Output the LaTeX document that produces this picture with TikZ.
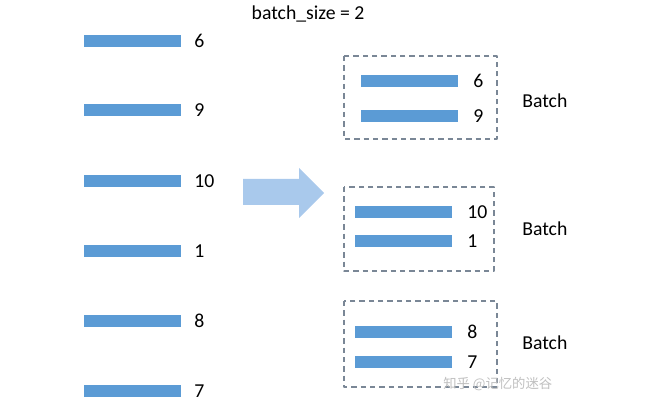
\documentclass[tikz,border=0pt]{standalone}
\usepackage{fontspec}
\setmainfont{Carlito}
\newfontfamily\cjk{Noto Sans CJK SC}
\definecolor{barblue}{HTML}{5B9BD5}
\definecolor{arrowblue}{HTML}{A9C9EC}
\definecolor{boxgray}{HTML}{7A8796}
\tikzset{
  bar/.style={fill=barblue,inner sep=0pt,minimum width=72.75pt,minimum height=8.5pt,anchor=west},
  num/.style={font=\fontsize{14.8}{17}\selectfont,anchor=west,inner sep=0pt},
  batchbox/.style={draw=boxgray,dashed,line width=0.8pt,dash pattern=on 4pt off 3pt},
}
\begin{document}
\begin{tikzpicture}[x=0.75pt,y=-0.75pt,line join=round,font=\fontsize{14.8}{17}\selectfont]
\useasboundingbox (0,0) rectangle (656,402);
\def\lx{84}
\def\nx{194}
%
\node[inner sep=0pt] (title) at (308,14) {batch\_size = 2};
% left column
\foreach \v/\y [count=\i] in {6/41,9/110,10/181,1/251,8/321,7/391}{
  \node[bar] (l\i) at (\lx,\y) {};
  \node[num] (ln\i) at (\nx,\y) {\v};
}
% arrow
\path
(243,179) coordinate (A1)
(299,179) coordinate (A2)
(299,168) coordinate (A3)
(324,193) coordinate (A4)
(299,218) coordinate (A5)
(299,205) coordinate (A6)
(243,205) coordinate (A7)
;
\fill[arrowblue] (A1)--(A2)--(A3)--(A4)--(A5)--(A6)--(A7)--cycle;
% batches
\draw[batchbox] (344,56) rectangle (497,139);
\draw[batchbox] (344,187) rectangle (494,271);
\draw[batchbox] (344,301) rectangle (497,387);
\foreach \v/\x/\y [count=\i] in {6/361/81,9/361/116,10/355/212,1/355/241,8/355/332,7/355/362}{
  \node[bar] (r\i) at (\x,\y) {};
  \node[num] (rn\i) at ([xshift=11pt]r\i.east) {\v};
}
\foreach \y [count=\i] in {101,229,343}
  \node[num] (b\i) at (522,\y) {Batch};
%
\node[text=black!25,font=\cjk\fontsize{10}{12}\selectfont,anchor=west,inner sep=0pt] (wm) at (443,384) {知乎 @记忆的迷谷};
\end{tikzpicture}
\end{document}
